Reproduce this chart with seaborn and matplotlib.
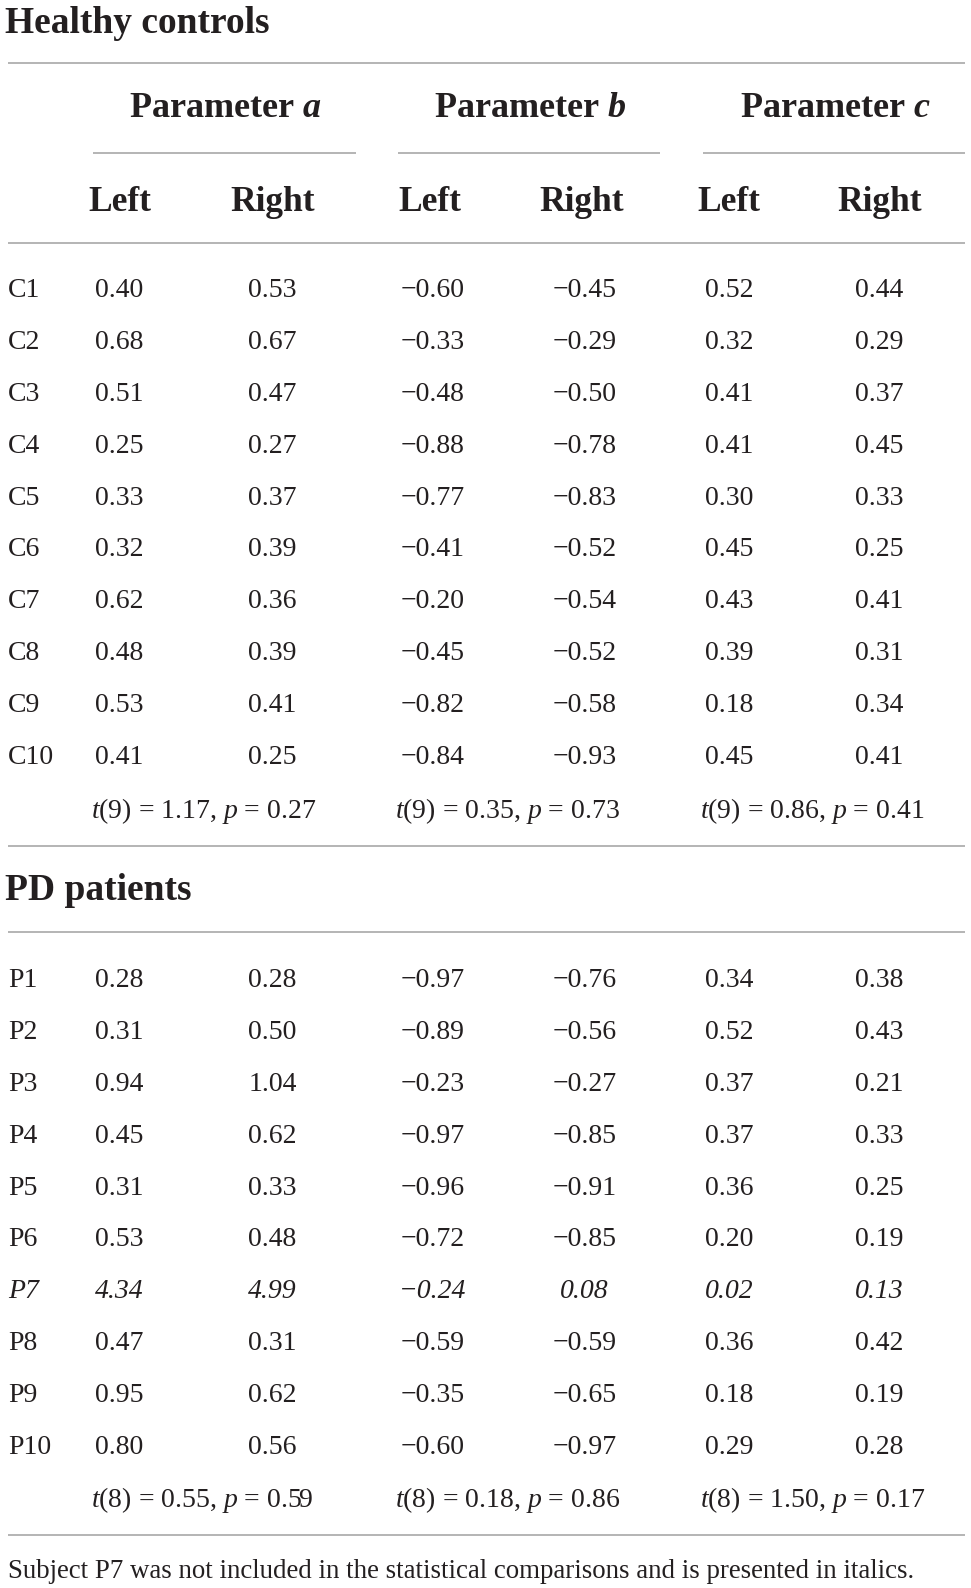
import matplotlib
matplotlib.use("Agg")
import matplotlib.pyplot as plt
import seaborn as sns
import pandas as pd

# ---------------- data ----------------
control_ids = ["C1", "C2", "C3", "C4", "C5", "C6", "C7", "C8", "C9", "C10"]
ctrl_a_left = [0.40, 0.68, 0.51, 0.25, 0.33, 0.32, 0.62, 0.48, 0.53, 0.41]
ctrl_a_right = [0.53, 0.67, 0.47, 0.27, 0.37, 0.39, 0.36, 0.39, 0.41, 0.25]
ctrl_b_left = [-0.60, -0.33, -0.48, -0.88, -0.77, -0.41, -0.20, -0.45, -0.82, -0.84]
ctrl_b_right = [-0.45, -0.29, -0.50, -0.78, -0.83, -0.52, -0.54, -0.52, -0.58, -0.93]
ctrl_c_left = [0.52, 0.32, 0.41, 0.41, 0.30, 0.45, 0.43, 0.39, 0.18, 0.45]
ctrl_c_right = [0.44, 0.29, 0.37, 0.45, 0.33, 0.25, 0.41, 0.31, 0.34, 0.41]
ctrl_tests = [("9", "1.17", "0.27"), ("9", "0.35", "0.73"), ("9", "0.86", "0.41")]

patient_ids = ["P1", "P2", "P3", "P4", "P5", "P6", "P7", "P8", "P9", "P10"]
pat_a_left = [0.28, 0.31, 0.94, 0.45, 0.31, 0.53, 4.34, 0.47, 0.95, 0.80]
pat_a_right = [0.28, 0.50, 1.04, 0.62, 0.33, 0.48, 4.99, 0.31, 0.62, 0.56]
pat_b_left = [-0.97, -0.89, -0.23, -0.97, -0.96, -0.72, -0.24, -0.59, -0.35, -0.60]
pat_b_right = [-0.76, -0.56, -0.27, -0.85, -0.91, -0.85, 0.08, -0.59, -0.65, -0.97]
pat_c_left = [0.34, 0.52, 0.37, 0.37, 0.36, 0.20, 0.02, 0.36, 0.18, 0.29]
pat_c_right = [0.38, 0.43, 0.21, 0.33, 0.25, 0.19, 0.13, 0.42, 0.19, 0.28]
pat_tests = [("8", "0.55", "0.59"), ("8", "0.18", "0.86"), ("8", "1.50", "0.17")]
excluded = ["P7"]

param_labels = ["a", "b", "c"]
side_labels = ["Left", "Right"]
section_titles = ["Healthy controls", "PD patients"]
footnote = "Subject P7 was not included in the statistical comparisons and is presented in italics."

# ---------------- style ----------------
sns.set_theme(style="white")
plt.rcParams["font.family"] = ["Liberation Serif", "DejaVu Serif"]
plt.rcParams["mathtext.fontset"] = "custom"
plt.rcParams["mathtext.rm"] = "Liberation Serif"
plt.rcParams["mathtext.it"] = "Liberation Serif:italic"
plt.rcParams["mathtext.bf"] = "Liberation Serif:bold"
plt.rcParams["mathtext.bfit"] = "Liberation Serif:bold:italic"

TXT = "#231f20"
RULE = "#a0a0a0"
BODY = 20
TITLE = 27
PARAM = 26
SIDE = 25.5
FOOT = 19.4

fig = plt.figure(figsize=(9.71, 15.88), dpi=100)
ax = fig.add_axes([0, 0, 1, 1])
ax.set_xlim(0, 971)
ax.set_ylim(1588, 0)
ax.axis("off")

col_x = [119.5, 272.5, 432.5, 584.5, 729, 879]
head_x = [119.5, 272.5, 429.5, 581.5, 729, 880]
param_x = [225, 530, 835]
under = [(93, 356), (398, 660), (703, 965)]
test_x = [91, 395, 700]
label_x = 8
row_step = 51.9


def rule(y, x0=8, x1=965):
    ax.plot([x0, x1], [y, y], color=RULE, lw=1.1, solid_capstyle="butt")


def fmt(v):
    s = f"{abs(v):.2f}"
    return ("\u2212" + s) if v < 0 else s


def draw_block(df, first_center, test_center, tests):
    cols = ["al", "ar", "bl", "br", "cl", "cr"]
    for i, row in df.reset_index(drop=True).iterrows():
        yb = first_center + i * row_step + 10
        style = "italic" if row["id"] in excluded else "normal"
        ax.text(label_x, yb, row["id"], fontsize=BODY, color=TXT, ha="left",
                va="baseline", style=style)
        for c, x in zip(cols, col_x):
            ax.text(x, yb, fmt(row[c]), fontsize=BODY, color=TXT, ha="center",
                    va="baseline", style=style)
    for (dfree, tv, pv), x in zip(tests, test_x):
        ax.text(x, test_center + 10, f"$t$({dfree}) = {tv}, $p$ = {pv}",
                fontsize=BODY, color=TXT, ha="left", va="baseline")


ctrl = pd.DataFrame({"id": control_ids, "al": ctrl_a_left, "ar": ctrl_a_right,
                     "bl": ctrl_b_left, "br": ctrl_b_right,
                     "cl": ctrl_c_left, "cr": ctrl_c_right})
pat = pd.DataFrame({"id": patient_ids, "al": pat_a_left, "ar": pat_a_right,
                    "bl": pat_b_left, "br": pat_b_right,
                    "cl": pat_c_left, "cr": pat_c_right})

# Section 1 title
ax.text(5, 33, section_titles[0], fontsize=TITLE, weight="bold", color=TXT,
        ha="left", va="baseline")
rule(63)
for p, x in zip(param_labels, param_x):
    ax.text(x, 117, f"Parameter $\\mathbfit{{{p}}}$", fontsize=PARAM, weight="bold",
            color=TXT, ha="center", va="baseline")
for x0, x1 in under:
    rule(153, x0, x1)
for j, x in enumerate(head_x):
    ax.text(x, 211, side_labels[j % 2], fontsize=SIDE, weight="bold", color=TXT,
            ha="center", va="baseline")
rule(243)

draw_block(ctrl, 287, 808, ctrl_tests)
rule(846)
ax.text(5, 900, section_titles[1], fontsize=TITLE, weight="bold", color=TXT,
        ha="left", va="baseline")
rule(932)
draw_block(pat, 977, 1497, pat_tests)
rule(1535)
ax.text(8, 1578, footnote, fontsize=FOOT, color=TXT, ha="left", va="baseline")

fig.savefig("out.png", dpi=100, facecolor="white")
